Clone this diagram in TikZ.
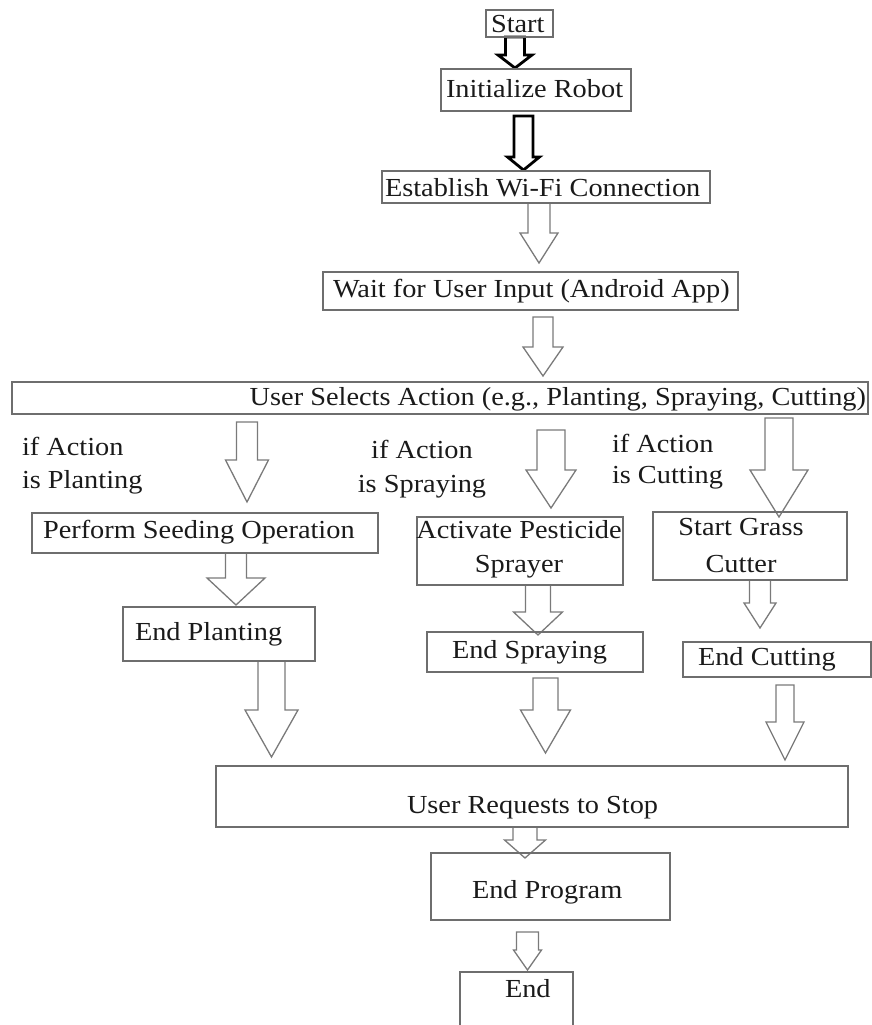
\documentclass[tikz,border=0pt]{standalone}
\usepackage{fontspec}
\setmainfont{Liberation Serif}[FakeStretch=1.09]
\definecolor{boxgray}{HTML}{6E6E6E}
\definecolor{arrgray}{HTML}{7A7A7A}
\definecolor{txt}{HTML}{1A1A1A}
\tikzset{
  box/.style={draw=boxgray, line width=1.3pt, rectangle, inner sep=0pt, outer sep=0pt},
  lbl/.style={inner sep=0pt, outer sep=0pt, text=txt, font=\fontsize{26}{34}\selectfont},
  openarrow/.style={draw=arrgray, line width=1.3pt, fill=white, line join=miter},
  boldarrow/.style={draw=black, line width=2.8pt, fill=white, line join=miter}
}
% block arrow: style, centre x, top y, head start y, tip y, shaft half width, head half width
\newcommand{\blockarrow}[7]{%
  \draw[#1] ({#2-#6},#3) -- ({#2+#6},#3) -- ({#2+#6},#4) -- ({#2+#7},#4) -- (#2,#5)
    -- ({#2-#7},#4) -- ({#2-#6},#4) -- cycle;}
% box node: name, x1, y1, x2, y2
\newcommand{\boxnode}[5]{%
  \node[box, minimum width={#4-#2}, minimum height={#5-#3}] (#1) at ({(#2+#4)/2},{(#3+#5)/2}) {};}
\begin{document}
\begin{tikzpicture}[x=1pt, y=-1pt]
\useasboundingbox (0,0) rectangle (872,1025);
\clip (0,0) rectangle (872,1025);

% ---- arrows ----
\blockarrow{boldarrow}{515}{37}{55}{68}{9.5}{17}        % start -> init
\blockarrow{boldarrow}{523.5}{116}{157}{170}{9.5}{16}   % init -> wifi
\blockarrow{openarrow}{539}{203}{233}{263}{11}{19}      % wifi -> wait
\blockarrow{openarrow}{543}{317}{347}{376}{10}{20}      % wait -> select
\blockarrow{openarrow}{247}{422}{460}{502}{10.5}{21.5}  % select -> perform
\blockarrow{openarrow}{551}{430}{470}{508}{14}{25}      % select -> activate
\blockarrow{openarrow}{779}{418}{470}{517}{14}{29}      % select -> grass
\blockarrow{openarrow}{236}{553}{578}{605}{10.5}{29}    % perform -> endplant
\blockarrow{openarrow}{538}{585}{612}{635}{12.5}{24.5}  % activate -> endspray
\blockarrow{openarrow}{760}{580}{603}{628}{10.5}{16}    % grass -> endcut
\blockarrow{openarrow}{271.5}{661}{710}{757}{13.5}{26.5}% endplant -> requests
\blockarrow{openarrow}{545.5}{678}{710}{753}{12.5}{25}  % endspray -> requests
\blockarrow{openarrow}{785}{685}{722}{760}{9}{19}       % endcut -> requests
\blockarrow{openarrow}{525}{827}{840}{858}{12}{20.5}    % requests -> endprog
\blockarrow{openarrow}{527.5}{932}{950}{970}{11}{14}    % endprog -> end

% ---- boxes ----
\boxnode{start}{486}{10}{553}{37}
\boxnode{init}{441}{69}{631}{111}
\boxnode{wifi}{382}{171}{710}{203}
\boxnode{wait}{323}{272}{738}{310}
\boxnode{select}{12}{382}{868}{414}
\boxnode{perform}{32}{513}{378}{553}
\boxnode{endplant}{123}{607}{315}{661}
\boxnode{activate}{417}{517}{623}{585}
\boxnode{endspray}{427}{632}{643}{672}
\boxnode{grass}{653}{512}{847}{580}
\boxnode{endcut}{683}{642}{871}{677}
\boxnode{requests}{216}{766}{848}{827}
\boxnode{endprog}{431}{853}{670}{920}
\boxnode{endbox}{460}{972}{573}{1040}

% ---- texts ----
\node[lbl, anchor=base west] (tstart) at (491,33) {Start};
\node[lbl, anchor=base west] (tinit) at (446,97) {Initialize Robot};
\node[lbl, anchor=base west] (twifi) at (385,196) {Establish Wi-Fi Connection};
\node[lbl, anchor=base west] (twait) at (333,297) {Wait for User Input (Android App)};
\node[lbl, anchor=base east] (tselect) at (866,405) {User Selects Action (e.g., Planting, Spraying, Cutting)};
\node[lbl, anchor=base west] (tifplant) at (22,455) {\parbox[t]{150pt}{\fontsize{26}{33}\selectfont if Action\\is Planting}};
\node[lbl, anchor=base] (tifspray) at (422,458) {\parbox[t]{150pt}{\centering\fontsize{26}{34}\selectfont if Action\\is Spraying}};
\node[lbl, anchor=base west] (tifcut) at (612,452) {\parbox[t]{150pt}{\fontsize{26}{31}\selectfont if Action\\is Cutting}};
\node[lbl, anchor=base west] (tperform) at (43,538) {Perform Seeding Operation};
\node[lbl, anchor=base west] (tendplant) at (135,640) {End Planting};
\node[lbl, anchor=base] (tactivate) at (519,538) {\parbox[t]{220pt}{\centering\fontsize{26}{34}\selectfont Activate Pesticide\\Sprayer}};
\node[lbl, anchor=base west] (tendspray) at (452,658) {End Spraying};
\node[lbl, anchor=base] (tgrass) at (741,535) {\parbox[t]{200pt}{\centering\fontsize{26}{37}\selectfont Start Grass\\Cutter}};
\node[lbl, anchor=base west] (tendcut) at (698,665) {End Cutting};
\node[lbl, anchor=base west] (trequests) at (407,813) {User Requests to Stop};
\node[lbl, anchor=base west] (tendprog) at (472,898) {End Program};
\node[lbl, anchor=base west] (tend) at (505,997) {End};
\end{tikzpicture}
\end{document}
